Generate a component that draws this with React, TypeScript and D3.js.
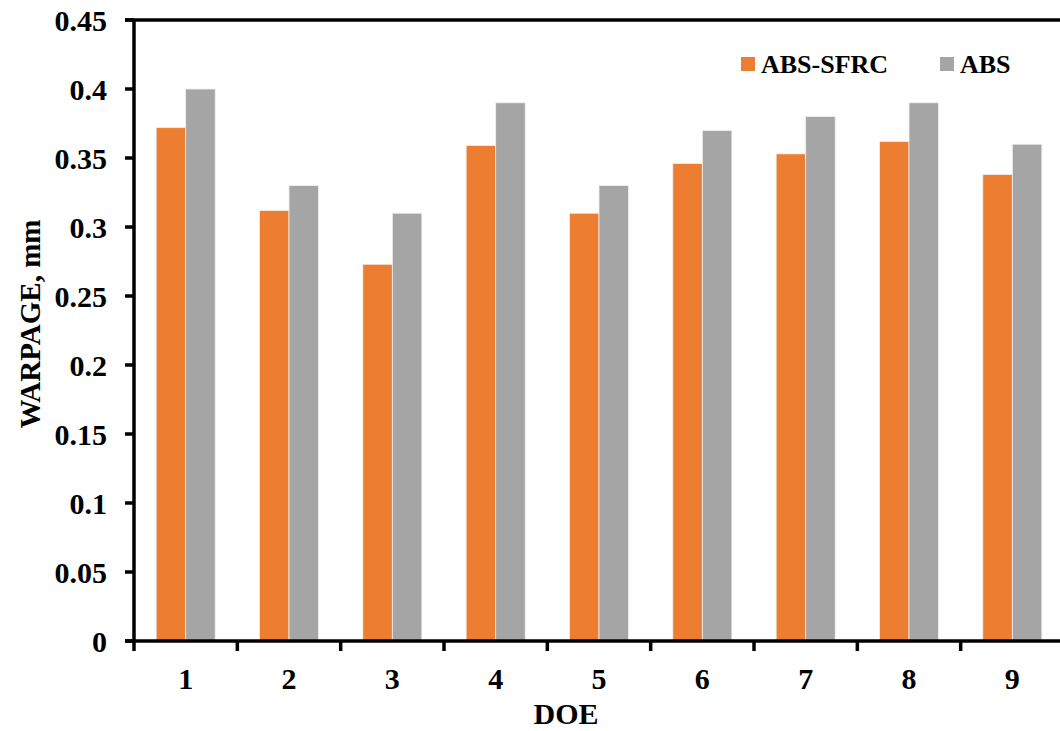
import React, { useEffect, useRef } from "react";
import * as d3 from "d3";

// DOE runs and measured warpage (mm) for both materials
const categories = ["1", "2", "3", "4", "5", "6", "7", "8", "9"];
const seriesNames = ["ABS-SFRC", "ABS"];
const absSfrc = [0.372, 0.312, 0.273, 0.359, 0.31, 0.346, 0.353, 0.362, 0.338];
const abs = [0.4, 0.33, 0.31, 0.39, 0.33, 0.37, 0.38, 0.39, 0.36];
const yTicks = [0, 0.05, 0.1, 0.15, 0.2, 0.25, 0.3, 0.35, 0.4, 0.45];
const yTickLabels = ["0", "0.05", "0.1", "0.15", "0.2", "0.25", "0.3", "0.35", "0.4", "0.45"];
const colors = ["#ED7D31", "#A5A5A5"];

const W = 1060;
const H = 731;
const FONT = "'Liberation Serif', 'Times New Roman', serif";

export default function App() {
  const ref = useRef<SVGSVGElement | null>(null);

  useEffect(() => {
    const svg = d3.select(ref.current);
    svg.selectAll("*").remove();

    const left = 134;
    const right = 1064;
    const top = 20;
    const bottom = 641;

    const x = d3.scaleBand<string>().domain(categories).range([left, right]).padding(0);
    const sub = d3
      .scaleBand<string>()
      .domain(seriesNames)
      .range([0, x.bandwidth()])
      .paddingInner(0)
      .paddingOuter(0.75);
    const y = d3.scaleLinear().domain([0, 0.45]).range([bottom, top]);

    const data = [absSfrc, abs];

    // bars
    const g = svg.append("g");
    data.forEach((vals, si) => {
      g.selectAll(`rect.s${si}`)
        .data(vals)
        .enter()
        .append("rect")
        .attr("x", (_, i) => (x(categories[i]) as number) + (sub(seriesNames[si]) as number))
        .attr("y", (d) => y(d))
        .attr("width", sub.bandwidth())
        .attr("height", (d) => y(0) - y(d))
        .attr("fill", colors[si])
        .attr("stroke", "#f0f0f0")
        .attr("stroke-width", 0.8);
    });

    // frame: left axis, top border, bottom axis
    const lineW = 3.5;
    svg
      .append("line")
      .attr("x1", left)
      .attr("x2", left)
      .attr("y1", top)
      .attr("y2", bottom)
      .attr("stroke", "#000")
      .attr("stroke-width", lineW);
    svg
      .append("line")
      .attr("x1", left - 9)
      .attr("x2", W + 10)
      .attr("y1", top)
      .attr("y2", top)
      .attr("stroke", "#000")
      .attr("stroke-width", lineW);
    svg
      .append("line")
      .attr("x1", left - 9)
      .attr("x2", W + 10)
      .attr("y1", bottom)
      .attr("y2", bottom)
      .attr("stroke", "#000")
      .attr("stroke-width", lineW);

    // y ticks and labels
    yTicks.forEach((t, i) => {
      svg
        .append("line")
        .attr("x1", left - 9)
        .attr("x2", left)
        .attr("y1", y(t))
        .attr("y2", y(t))
        .attr("stroke", "#000")
        .attr("stroke-width", lineW);
      svg
        .append("text")
        .attr("x", 107)
        .attr("y", y(t) + 10.5)
        .attr("text-anchor", "end")
        .attr("font-family", FONT)
        .attr("font-weight", "bold")
        .attr("font-size", 30)
        .text(yTickLabels[i]);
    });

    // x ticks at category boundaries and labels
    categories.forEach((c) => {
      const x0 = x(c) as number;
      svg
        .append("line")
        .attr("x1", x0)
        .attr("x2", x0)
        .attr("y1", bottom)
        .attr("y2", bottom + 10)
        .attr("stroke", "#000")
        .attr("stroke-width", lineW);
      svg
        .append("text")
        .attr("x", x0 + x.bandwidth() / 2)
        .attr("y", 689)
        .attr("text-anchor", "middle")
        .attr("font-family", FONT)
        .attr("font-weight", "bold")
        .attr("font-size", 30)
        .text(c);
    });

    // axis titles
    svg
      .append("text")
      .attr("x", 566)
      .attr("y", 724)
      .attr("text-anchor", "middle")
      .attr("font-family", FONT)
      .attr("font-weight", "bold")
      .attr("font-size", 30)
      .text("DOE");
    svg
      .append("text")
      .attr("transform", "translate(40,324) rotate(-90)")
      .attr("text-anchor", "middle")
      .attr("font-family", FONT)
      .attr("font-weight", "bold")
      .attr("font-size", 29)
      .text("WARPAGE, mm");

    // legend
    const legendItems = [
      { name: seriesNames[0], sx: 741, tx: 761 },
      { name: seriesNames[1], sx: 940, tx: 960 },
    ];
    legendItems.forEach((it, i) => {
      svg
        .append("rect")
        .attr("x", it.sx)
        .attr("y", 57)
        .attr("width", 14)
        .attr("height", 14)
        .attr("fill", colors[i]);
      svg
        .append("text")
        .attr("x", it.tx)
        .attr("y", 73)
        .attr("font-family", FONT)
        .attr("font-weight", "bold")
        .attr("font-size", 26)
        .text(it.name);
    });
  }, []);

  return (
    <svg
      ref={ref}
      width={W}
      height={H}
      style={{ position: "absolute", left: 0, top: 0, background: "#fff" }}
    />
  );
}
